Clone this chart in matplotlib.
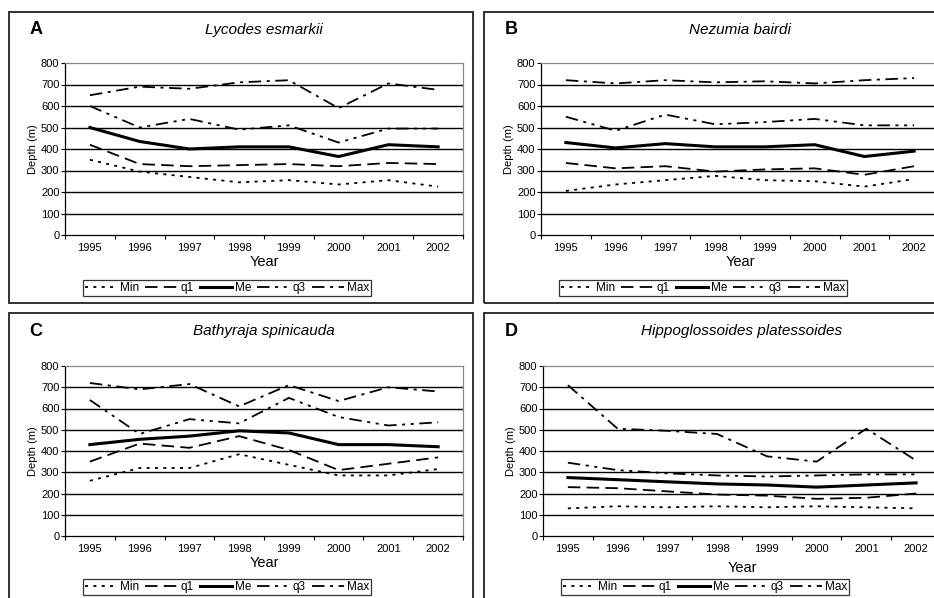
#!/usr/bin/env python3
"""Depth distribution (Min/q1/Me/q3/Max) by year for four species."""

import matplotlib

matplotlib.use("Agg")
import matplotlib.pyplot as plt
from matplotlib.patches import Rectangle

plt.rcParams["font.family"] = ["Liberation Sans", "DejaVu Sans"]
plt.rcParams["lines.scale_dashes"] = False

W, H = 934, 598

YEARS = ["1995", "1996", "1997", "1998", "1999", "2000", "2001", "2002"]
SERIES = ["Min", "q1", "Me", "q3", "Max"]

LETTERS = ["A", "B", "C", "D"]
SPECIES = ["Lycodes esmarkii", "Nezumia bairdi",
           "Bathyraja spinicauda", "Hippoglossoides platessoides"]

# A: Lycodes esmarkii
A_MIN = [350, 295, 270, 245, 255, 235, 255, 225]
A_Q1 = [420, 330, 320, 325, 330, 320, 335, 330]
A_ME = [500, 435, 400, 410, 410, 365, 420, 410]
A_Q3 = [600, 500, 540, 490, 510, 430, 495, 495]
A_MAX = [650, 690, 680, 710, 720, 590, 705, 675]

# B: Nezumia bairdi
B_MIN = [205, 235, 255, 275, 255, 250, 225, 260]
B_Q1 = [335, 310, 320, 295, 305, 310, 280, 320]
B_ME = [430, 405, 425, 410, 410, 420, 365, 390]
B_Q3 = [550, 485, 560, 515, 525, 540, 510, 510]
B_MAX = [720, 705, 720, 710, 715, 705, 720, 730]

# C: Bathyraja spinicauda
C_MIN = [260, 320, 320, 385, 335, 285, 285, 315]
C_Q1 = [350, 435, 415, 470, 405, 310, 340, 370]
C_ME = [430, 455, 470, 495, 485, 430, 430, 420]
C_Q3 = [640, 480, 550, 530, 650, 560, 520, 535]
C_MAX = [720, 690, 715, 610, 710, 635, 700, 680]

# D: Hippoglossoides platessoides
D_MIN = [130, 140, 135, 140, 135, 140, 135, 130]
D_Q1 = [230, 225, 210, 195, 190, 175, 180, 200]
D_ME = [275, 265, 255, 245, 240, 230, 240, 250]
D_Q3 = [345, 310, 295, 285, 280, 285, 290, 290]
D_MAX = [710, 505, 495, 480, 375, 350, 505, 355]

DATA = [
    [A_MIN, A_Q1, A_ME, A_Q3, A_MAX],
    [B_MIN, B_Q1, B_ME, B_Q3, B_MAX],
    [C_MIN, C_Q1, C_ME, C_Q3, C_MAX],
    [D_MIN, D_Q1, D_ME, D_Q3, D_MAX],
]

# (linewidth, dash pattern or None for solid)
STYLES = [
    (1.3, (2.2, 3.8)),
    (1.3, (9, 4.5)),
    (2.2, None),
    (1.3, (9, 4, 2.2, 4, 2.2, 4)),
    (1.3, (9, 4, 2.2, 4)),
]

# panel frames (px: x0, y0, x1, y1) and axes (px: left, top, right, bottom)
FRAMES = [(9, 12, 473, 303), (484, 12, 940, 303),
          (9, 313, 473, 604), (484, 313, 940, 604)]
AXES = [(65, 63, 463, 235), (541, 63, 939, 235),
        (65, 366, 463, 536), (543, 366, 941, 536)]
LEGENDS = [(83, 288), (559, 288), (83, 587), (561, 587)]


def fx(x):
    return x / W


def fy(y):
    return 1 - y / H


fig = plt.figure(figsize=(W / 100, H / 100), dpi=100)

for i in range(4):
    x0, y0, x1, y1 = FRAMES[i]
    fig.patches.append(Rectangle((fx(x0), fy(y1)), fx(x1 - x0), (y1 - y0) / H,
                                 transform=fig.transFigure, fill=False,
                                 edgecolor="#222222", linewidth=1.3))

    l, t, r, b = AXES[i]
    ax = fig.add_axes([fx(l), fy(b), fx(r - l), (b - t) / H])
    xs = range(1, len(YEARS) + 1)
    lines = []
    for vals, name, (lw, dash) in zip(DATA[i], SERIES, STYLES):
        (ln,) = ax.plot(xs, vals, color="black", linewidth=lw, label=name)
        if dash is not None:
            ln.set_dashes(dash)
        lines.append(ln)

    ax.set_xlim(0.5, len(YEARS) + 0.5)
    ax.set_ylim(0, 800)
    ax.set_yticks(range(0, 801, 100))
    ax.tick_params(axis="y", labelsize=8, length=3, width=0.8, pad=1)
    ax.set_xticks([k + 0.5 for k in range(0, len(YEARS) + 1)])
    ax.set_xticklabels([])
    ax.tick_params(axis="x", length=3, width=0.8)
    ax.set_xticks(list(xs), minor=True)
    ax.set_xticklabels(YEARS, minor=True, fontsize=8)
    ax.tick_params(axis="x", which="minor", length=0, pad=6)
    for yv in range(100, 800, 100):
        ax.axhline(yv, color="black", linewidth=1.0, zorder=0.5)
    for s in ("top", "right"):
        ax.spines[s].set_color("#888888")
        ax.spines[s].set_linewidth(0.9)
    for s in ("left", "bottom"):
        ax.spines[s].set_linewidth(0.9)
    ax.set_ylabel("Depth (m)", fontsize=8, labelpad=2)
    ax.set_xlabel("Year", fontsize=10.5, labelpad=1 if i != 3 else 5)

    fig.text(fx(x0 + 27), fy(y0 + 18), LETTERS[i], fontsize=13,
             fontweight="bold", ha="center", va="center")
    fig.text(fx((l + r) / 2), fy(y0 + 18), SPECIES[i], fontsize=11,
             style="italic", ha="center", va="center")

    lx, ly = LEGENDS[i]
    leg = fig.legend(handles=lines, loc="center left", ncol=5,
                     bbox_to_anchor=(fx(lx), fy(ly)), fontsize=8.5,
                     frameon=True, fancybox=False, handlelength=2.7,
                     handletextpad=0.3, columnspacing=0.5,
                     borderpad=0.15, borderaxespad=0)
    leg.get_frame().set_edgecolor("black")
    leg.get_frame().set_linewidth(0.9)

fig.savefig("out.png", dpi=100)
